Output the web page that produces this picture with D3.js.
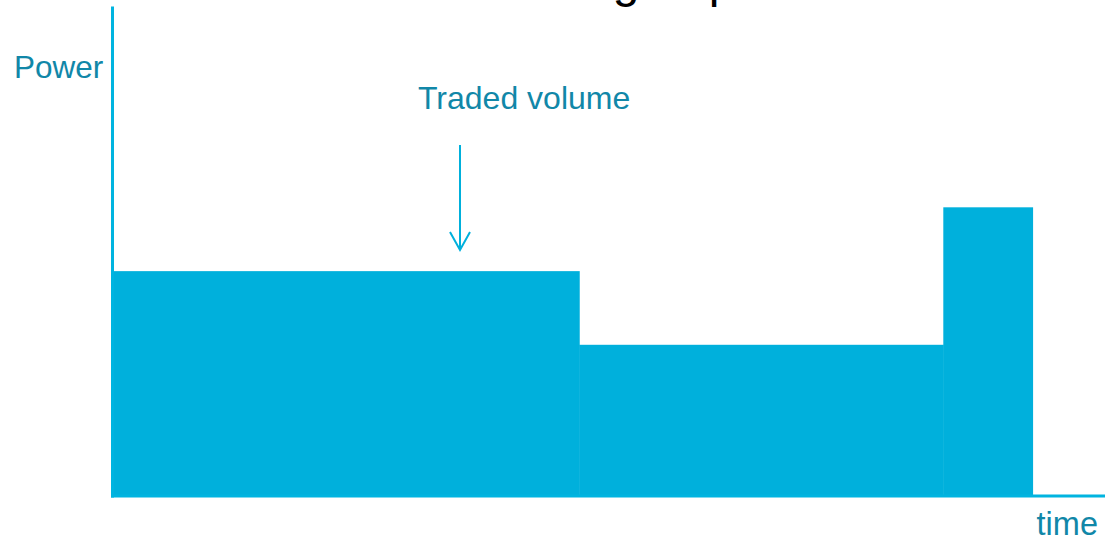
<!DOCTYPE html>
<html>
<head>
  <title>Traded volume</title>
  <script src="https://d3js.org/d3.v7.min.js"></script>
  <style>
    body { margin: 0; background: #fff; }
    svg { display: block; font-family: "Liberation Sans", Arial, sans-serif; }
  </style>
</head>
<body>
<div id="chart"></div>
<script type="text/javascript">

  // time blocks (arbitrary time units) and the power traded in each
  var blockStart = [0, 4.7, 8.37];
  var blockEnd   = [4.7, 8.37, 9.27];
  var power      = [4.6, 3.1, 5.9];

  var titleText = "Balance group";
  var yLabel = "Power";
  var xLabel = "time";
  var noteText = "Traded volume";

  var width = 1105, height = 547;
  var barColor = "#00b0dc", axisColor = "#00b4e0", textColor = "#1187a8";

  var svg = d3.select("#chart").append("svg")
      .attr("width", width)
      .attr("height", height);

  var x = d3.scaleLinear().domain([0, 10]).range([113, 1105]);
  var y = d3.scaleLinear().domain([0, 10]).range([497, 6]);

  var blocks = power.map(function (p, i) {
    return { start: blockStart[i], end: blockEnd[i], value: p };
  });

  /* title, mostly cut off above the picture */
  svg.append("text")
      .attr("x", 426)
      .attr("y", -3)
      .style("font-size", "48px")
      .style("fill", "#000")
      .text(titleText);

  svg.selectAll("rect.block")
      .data(blocks)
      .enter().append("rect")
      .attr("class", "block")
      .attr("x", function (d) { return x(d.start); })
      .attr("width", function (d) { return x(d.end) - x(d.start) + 0.5; })
      .attr("y", function (d) { return y(d.value); })
      .attr("height", function (d) { return y(0) - y(d.value); })
      .style("fill", barColor);

  // axes with no ticks, just the lines
  var xAxis = svg.append("g")
      .attr("transform", "translate(0," + 496 + ")")
      .call(d3.axisBottom(x).tickValues([]).tickSizeOuter(0));
  xAxis.select(".domain")
      .attr("d", "M" + (x(0) - 2) + ",0H" + x(10))
      .style("stroke", axisColor)
      .style("stroke-width", 3);

  var yAxis = svg.append("g")
      .attr("transform", "translate(" + 112 + ",0)")
      .call(d3.axisLeft(y).tickValues([]).tickSizeOuter(0));
  yAxis.select(".domain")
      .style("stroke", axisColor)
      .style("stroke-width", 3);

  svg.append("text")
      .attr("x", 14)
      .attr("y", 78)
      .style("font-size", "31.5px")
      .style("fill", textColor)
      .text(yLabel);

  svg.append("text")
      .attr("x", 1098)
      .attr("y", 535)
      .attr("text-anchor", "end")
      .style("font-size", "32.5px")
      .style("fill", textColor)
      .text(xLabel);

  svg.append("text")
      .attr("x", 418)
      .attr("y", 109)
      .style("font-size", "32px")
      .style("fill", textColor)
      .text(noteText);

  // arrow pointing at the first block
  var ax = 460;
  svg.append("line")
      .attr("x1", ax).attr("x2", ax)
      .attr("y1", 145).attr("y2", 249)
      .style("stroke", barColor)
      .style("stroke-width", 2);
  svg.append("path")
      .attr("d", "M" + (ax - 10) + ",232L" + ax + ",250L" + (ax + 10) + ",232")
      .style("fill", "none")
      .style("stroke", barColor)
      .style("stroke-width", 2);

</script>
</body>
</html>
